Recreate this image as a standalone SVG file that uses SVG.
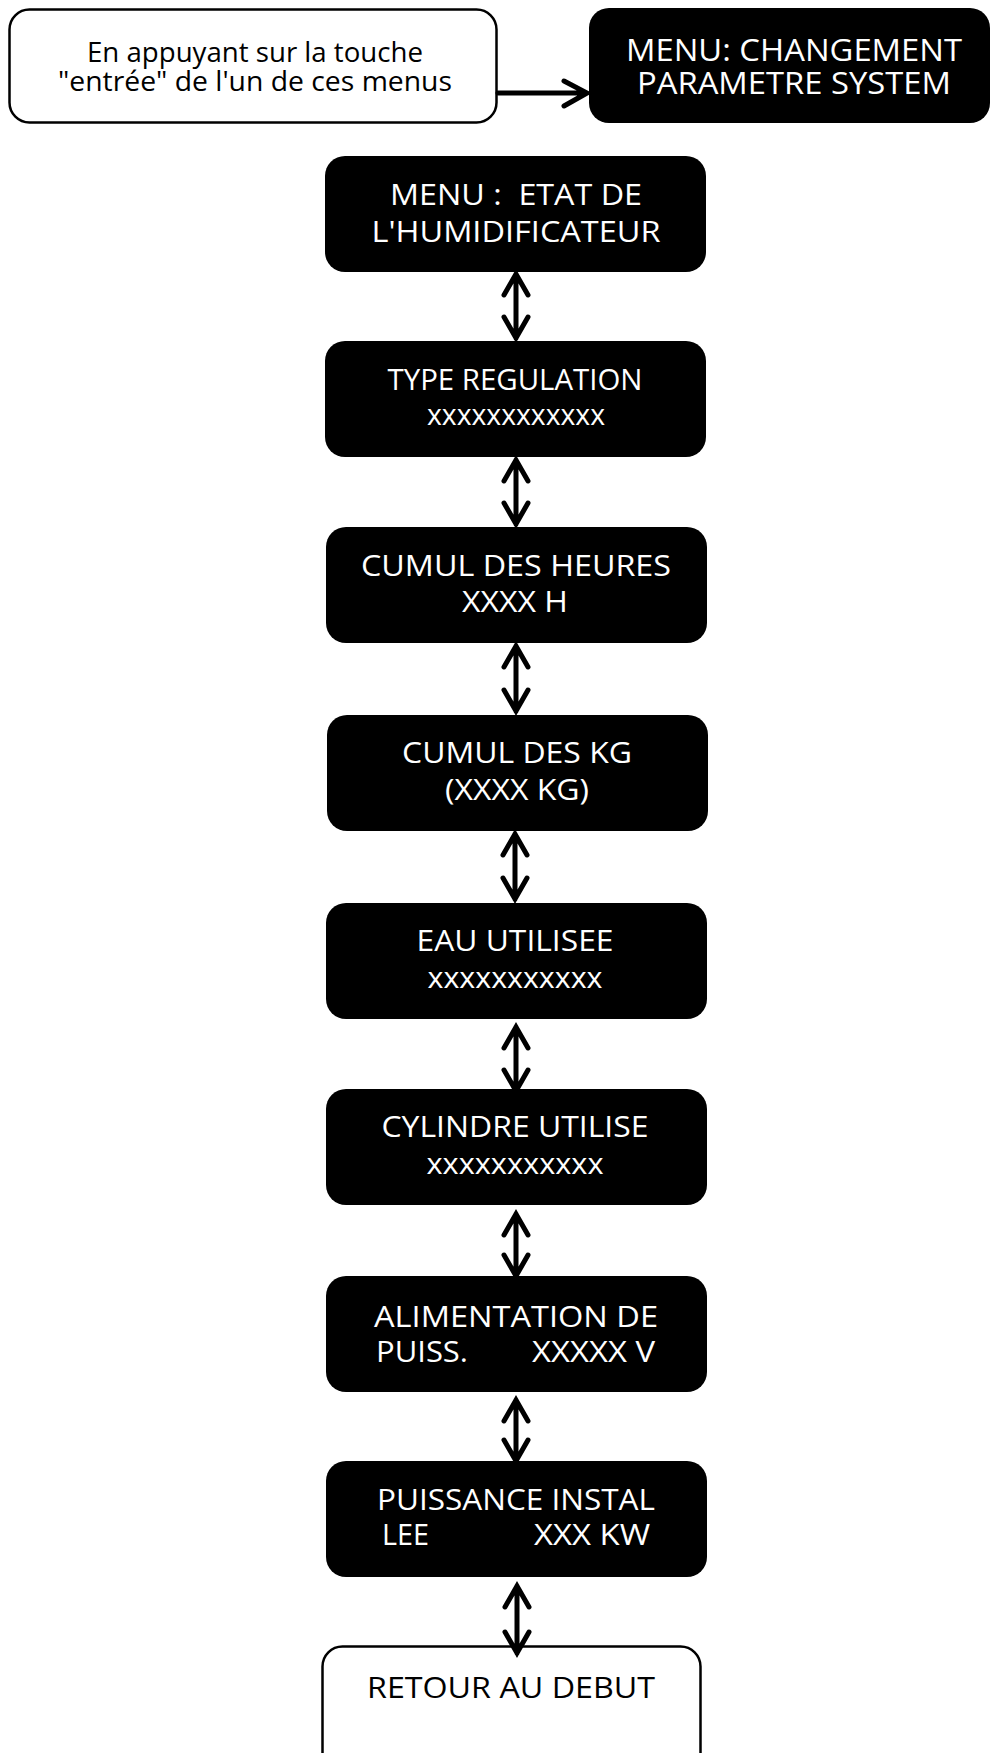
<svg xmlns="http://www.w3.org/2000/svg" width="992" height="1753" viewBox="0 0 992 1753">
<style>
.blk{fill:#000}
.wht{fill:#fff;stroke:#000;stroke-width:2.5}
.tw{fill:#fff;font-family:"Open Sans","Noto Sans",sans-serif;font-size:29.5px}
.tb{fill:#000;font-family:"Open Sans","Noto Sans",sans-serif;font-size:29.5px}
.sm{font-size:26.5px}
.lg{font-size:31px}
.arr{fill:none;stroke:#000;stroke-width:5;stroke-linecap:round;stroke-linejoin:miter}
</style>
<rect width="992" height="1753" fill="#fff"/>
<g id="n-entree">
<rect class="wht" x="9.5" y="9.5" width="487" height="113" rx="20"/>
<text class="tb sm" text-anchor="middle"><tspan x="255" y="62" textLength="336" lengthAdjust="spacingAndGlyphs">En appuyant sur la touche</tspan><tspan x="255" y="91" textLength="394" lengthAdjust="spacingAndGlyphs">"entrée" de l'un de ces menus</tspan></text>
</g>
<g id="n-changement">
<rect class="blk" x="589" y="8" width="401" height="115" rx="20"/>
<text class="tw lg" text-anchor="middle"><tspan x="794" y="61" textLength="336" lengthAdjust="spacingAndGlyphs">MENU: CHANGEMENT</tspan><tspan x="794" y="94" textLength="314" lengthAdjust="spacingAndGlyphs">PARAMETRE SYSTEM</tspan></text>
</g>
<g id="n-etat">
<rect class="blk" x="325" y="156" width="381" height="116" rx="20"/>
<text class="tw" text-anchor="middle" xml:space="preserve"><tspan x="516" y="205" textLength="252" lengthAdjust="spacingAndGlyphs">MENU :  ETAT DE</tspan><tspan x="516" y="242" textLength="289" lengthAdjust="spacingAndGlyphs">L'HUMIDIFICATEUR</tspan></text>
</g>
<g id="n-type">
<rect class="blk" x="325" y="341" width="381" height="116" rx="20"/>
<text class="tw" text-anchor="middle"><tspan x="515" y="390" textLength="255" lengthAdjust="spacingAndGlyphs">TYPE REGULATION</tspan><tspan x="516" y="425" textLength="178" lengthAdjust="spacingAndGlyphs">xxxxxxxxxxxx</tspan></text>
</g>
<g id="n-heures">
<rect class="blk" x="326" y="527" width="381" height="116" rx="20"/>
<text class="tw" text-anchor="middle"><tspan x="516" y="576" textLength="310" lengthAdjust="spacingAndGlyphs">CUMUL DES HEURES</tspan><tspan x="515" y="612" textLength="106" lengthAdjust="spacingAndGlyphs">XXXX H</tspan></text>
</g>
<g id="n-kg">
<rect class="blk" x="327" y="715" width="381" height="116" rx="20"/>
<text class="tw" text-anchor="middle"><tspan x="517" y="763" textLength="230" lengthAdjust="spacingAndGlyphs">CUMUL DES KG</tspan><tspan x="517" y="800" textLength="144" lengthAdjust="spacingAndGlyphs">(XXXX KG)</tspan></text>
</g>
<g id="n-eau">
<rect class="blk" x="326" y="903" width="381" height="116" rx="20"/>
<text class="tw" text-anchor="middle"><tspan x="515" y="951" textLength="197" lengthAdjust="spacingAndGlyphs">EAU UTILISEE</tspan><tspan x="515" y="988" textLength="175" lengthAdjust="spacingAndGlyphs">xxxxxxxxxxx</tspan></text>
</g>
<g id="n-cylindre">
<rect class="blk" x="326" y="1089" width="381" height="116" rx="20"/>
<text class="tw" text-anchor="middle"><tspan x="515" y="1137" textLength="267" lengthAdjust="spacingAndGlyphs">CYLINDRE UTILISE</tspan><tspan x="515" y="1174" textLength="177" lengthAdjust="spacingAndGlyphs">xxxxxxxxxxx</tspan></text>
</g>
<g id="n-alim">
<rect class="blk" x="326" y="1276" width="381" height="116" rx="20"/>
<text class="tw"><tspan x="374" y="1327" textLength="284" lengthAdjust="spacingAndGlyphs">ALIMENTATION DE</tspan><tspan x="376" y="1362" textLength="92" lengthAdjust="spacingAndGlyphs">PUISS.</tspan><tspan x="532" y="1362" textLength="123" lengthAdjust="spacingAndGlyphs">XXXXX V</tspan></text>
</g>
<g id="n-puissance">
<rect class="blk" x="326" y="1461" width="381" height="116" rx="20"/>
<text class="tw"><tspan x="377" y="1510" textLength="278" lengthAdjust="spacingAndGlyphs">PUISSANCE INSTAL</tspan><tspan x="382" y="1545" textLength="47" lengthAdjust="spacingAndGlyphs">LEE</tspan><tspan x="534" y="1545" textLength="116" lengthAdjust="spacingAndGlyphs">XXX KW</tspan></text>
</g>
<g id="n-retour">
<rect class="wht" x="322.5" y="1646.5" width="378" height="130" rx="20"/>
<text class="tb" text-anchor="middle"><tspan x="511" y="1698" textLength="288" lengthAdjust="spacingAndGlyphs">RETOUR AU DEBUT</tspan></text>
</g>
<g id="connectors">
<path class="arr" d="M498,93 H586 M564,81 L587,93 L564,106"/>
<path class="arr" d="M516,274 V338 M504,295 L516,274 L528,295 M504,317 L516,338 L528,317"/>
<path class="arr" d="M516,460 V524 M504,481 L516,460 L528,481 M504,503 L516,524 L528,503"/>
<path class="arr" d="M516,646 V711 M504,667 L516,646 L528,667 M504,690 L516,711 L528,690"/>
<path class="arr" d="M515,834 V899 M503,855 L515,834 L527,855 M503,878 L515,899 L527,878"/>
<path class="arr" d="M516,1027 V1091 M504,1048 L516,1027 L528,1048 M504,1070 L516,1091 L528,1070"/>
<path class="arr" d="M516,1214 V1276 M504,1235 L516,1214 L528,1235 M504,1255 L516,1276 L528,1255"/>
<path class="arr" d="M516,1400 V1461 M504,1421 L516,1400 L528,1421 M504,1440 L516,1461 L528,1440"/>
<path class="arr" d="M517,1586 V1653 M505,1607 L517,1586 L529,1607 M505,1632 L517,1653 L529,1632"/>
</g>
</svg>
